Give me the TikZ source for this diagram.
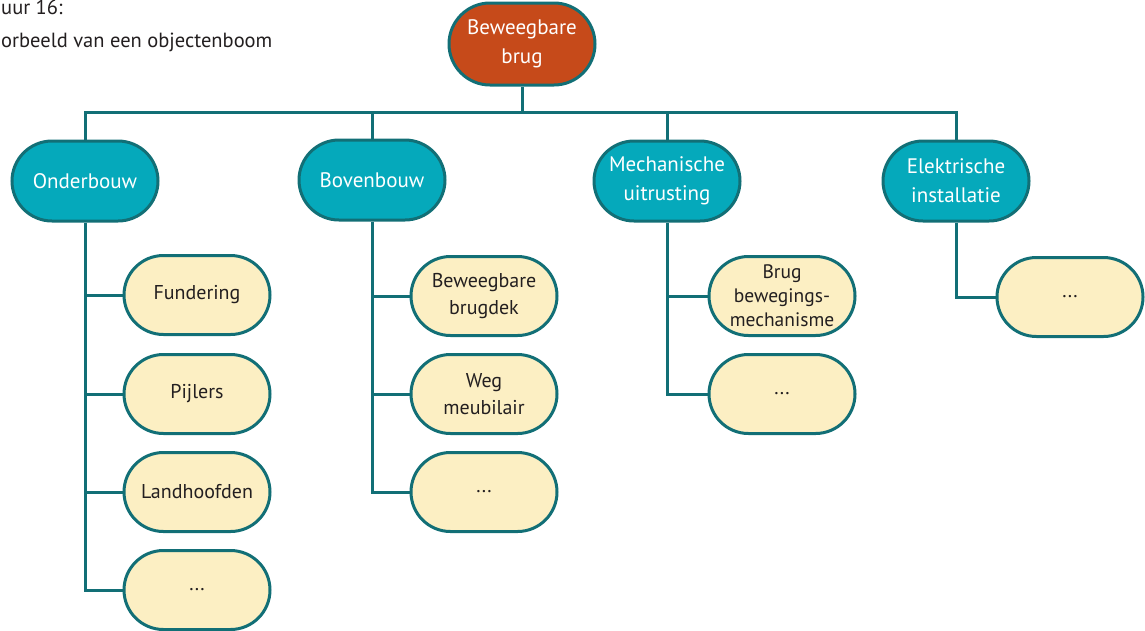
\documentclass[tikz,border=0pt]{standalone}
\usepackage{fontspec}
\setmainfont{PT Sans}
\usetikzlibrary{shapes.misc}
\definecolor{edgeteal}{HTML}{126F76}
\definecolor{rootfill}{HTML}{C64A1A}
\definecolor{groupfill}{HTML}{05A9BB}
\definecolor{leaffill}{HTML}{FCEFC3}
\definecolor{leaftext}{HTML}{231F20}
\begin{document}
\begin{tikzpicture}[x=1pt,y=-1pt,
  pill/.style={rounded rectangle, draw=edgeteal, line width=3pt,
    minimum width=148pt, minimum height=79pt, align=center, inner sep=1pt},
  rootbox/.style={pill, fill=rootfill, text=white, minimum height=82pt,
    font=\fontsize{21}{29}\selectfont},
  groupbox/.style={pill, fill=groupfill, text=white, minimum height=80pt,
    font=\fontsize{21}{29}\selectfont},
  leafbox/.style={pill, fill=leaffill, text=leaftext,
    font=\fontsize{20}{27}\selectfont},
  link/.style={draw=edgeteal, line width=3pt},
  caption/.style={anchor=base west, inner sep=0pt, text=leaftext,
    font=\fontsize{20.5}{22}\selectfont}
]
\useasboundingbox (0,0) rectangle (1145,630);

% caption
\node[caption] (cap1) at (1,14) {uur 16:};
\node[caption] (cap2) at (1,47) {orbeeld van een objectenboom};

% root
\node[rootbox] (root) at (522,44) {Beweegbare\\brug};

% main groups
\node[groupbox] (ond) at (85,181) {Onderbouw};
\node[groupbox] (bov) at (372,180) {Bovenbouw};
\node[groupbox] (mech) at (667,181) {Mechanische\\uitrusting};
\node[groupbox] (ele) at (956,181) {Elektrische\\installatie};

% leaves
\node[leafbox] (o1) at (197,295) {Fundering};
\node[leafbox] (o2) at (197,394) {Pijlers};
\node[leafbox] (o3) at (197,492) {Landhoofden};
\node[leafbox] (o4) at (197,590) {...};

\node[leafbox] (b1) at (484,296) {Beweegbare\\brugdek};
\node[leafbox] (b2) at (484,394) {Weg\\meubilair};
\node[leafbox] (b3) at (484,492) {...};

\node[leafbox, font=\fontsize{19.5}{24}\selectfont] (m1) at (782,296) {Brug\\bewegings-\\mechanisme};
\node[leafbox] (m2) at (782,394) {...};

\node[leafbox] (e1) at (1070,297) {...};

% root to groups
\coordinate (bus) at (522,112);
\draw[link] (root.south) -- (bus);
\draw[link] (ond.north) -- (ond.north |- bus) -- (ele.north |- bus) -- (ele.north);
\draw[link] (bov.north) -- (bov.north |- bus);
\draw[link] (mech.north) -- (mech.north |- bus);

% groups to leaves
\draw[link] (ond.south) |- (o4.west);
\foreach \c in {o1,o2,o3} \draw[link] (ond.south |- \c.west) -- (\c.west);
\draw[link] (bov.south) |- (b3.west);
\foreach \c in {b1,b2} \draw[link] (bov.south |- \c.west) -- (\c.west);
\draw[link] (mech.south) |- (m2.west);
\draw[link] (mech.south |- m1.west) -- (m1.west);
\draw[link] (ele.south) |- (e1.west);
\end{tikzpicture}
\end{document}
